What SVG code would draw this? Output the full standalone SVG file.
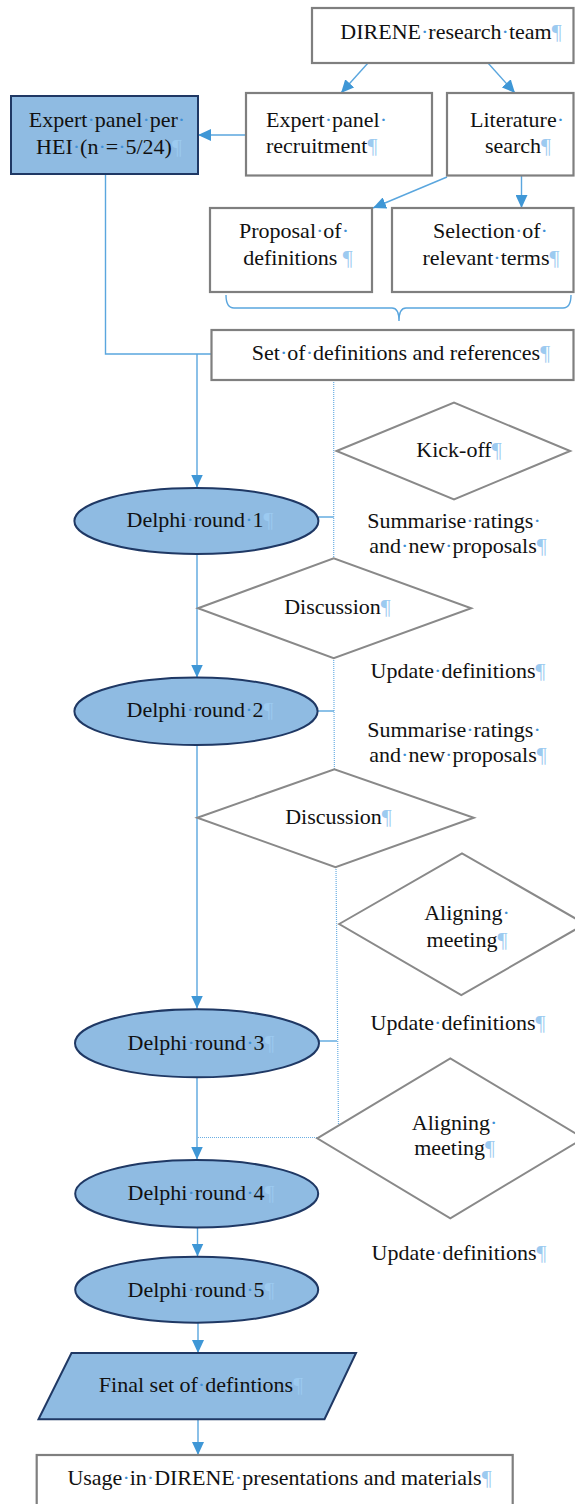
<svg xmlns="http://www.w3.org/2000/svg" width="575" height="1504" viewBox="0 0 575 1504">
<style>
  .box{fill:#fff;stroke:#7f7f7f;stroke-width:2.2}
  .dia{fill:#fff;stroke:#898989;stroke-width:2}
  .hl{fill:#8fbbe2;stroke:#1f3864;stroke-width:2}
  text{font-family:"Liberation Serif","Times New Roman",serif;font-size:22px;fill:#111}
  .m{text-anchor:middle}
  .p{fill:#9ccaf0}
  .d{fill:#3d8fd6}
  .c{fill:none;stroke:#5aa6de;stroke-width:1.4}
  .a{marker-end:url(#ah)}
  .dot{fill:none;stroke:#6aaee3;stroke-width:1.2;stroke-dasharray:1 1}
</style>
<defs>
  <marker id="ah" markerUnits="userSpaceOnUse" markerWidth="14" markerHeight="12" refX="13" refY="6" orient="auto">
    <path d="M0,0 L13,6 L0,12 z" fill="#3f97d6"/>
  </marker>
</defs>
<rect width="575" height="1504" fill="#fff"/>

<!-- connectors -->
<g id="connectors">
  <line class="c a" x1="368" y1="63" x2="341" y2="93"/>
  <line class="c a" x1="488" y1="63" x2="515" y2="93"/>
  <line class="c a" x1="246" y1="135" x2="198" y2="135"/>
  <line class="c a" x1="447" y1="177" x2="373" y2="208"/>
  <line class="c a" x1="521.5" y1="176" x2="521.5" y2="208"/>
  <path class="c" d="M226,295 Q226,308 234,308 H392 Q399,308 399,321 Q399,308 406,308 H563 Q571,308 571,295"/>
  <polyline class="c" points="105.5,174 105.5,354 211,354"/>
  <line class="c a" x1="197" y1="354" x2="197" y2="487.5"/>
  <line class="dot" x1="333.7" y1="380" x2="333.7" y2="558"/>
  <line class="c" x1="318" y1="517" x2="333.7" y2="517"/>
  <line class="c a" x1="197" y1="554" x2="197" y2="677.5"/>
  <line class="dot" x1="333.7" y1="658" x2="334.4" y2="769"/>
  <line class="c" x1="317.5" y1="711" x2="334" y2="711"/>
  <line class="c a" x1="197" y1="745" x2="197" y2="1008.5"/>
  <line class="dot" x1="336" y1="867" x2="338.5" y2="1125"/>
  <line class="c" x1="318.5" y1="1041" x2="337" y2="1041"/>
  <line class="c a" x1="197" y1="1077" x2="197" y2="1159.5"/>
  <line class="dot" x1="198" y1="1137.5" x2="317" y2="1137.5"/>
  <line class="c a" x1="197.5" y1="1227" x2="197.5" y2="1256.5"/>
  <line class="c a" x1="198" y1="1323" x2="198" y2="1353"/>
  <line class="c a" x1="198" y1="1419" x2="198" y2="1455"/>
</g>

<!-- side notes between the rounds -->
<g id="notes">
  <text class="m" x="454" y="528.3">Summarise<tspan class="d">·</tspan>ratings<tspan class="d">·</tspan></text>
  <text class="m" x="458" y="553.3">and<tspan class="d">·</tspan>new<tspan class="d">·</tspan>proposals<tspan class="p">¶</tspan></text>
  <text class="m" x="458" y="678.3">Update<tspan class="d">·</tspan>definitions<tspan class="p">¶</tspan></text>
  <text class="m" x="454" y="737">Summarise<tspan class="d">·</tspan>ratings<tspan class="d">·</tspan></text>
  <text class="m" x="458" y="762">and<tspan class="d">·</tspan>new<tspan class="d">·</tspan>proposals<tspan class="p">¶</tspan></text>
  <text class="m" x="458" y="1030">Update<tspan class="d">·</tspan>definitions<tspan class="p">¶</tspan></text>
  <text class="m" x="459" y="1260">Update<tspan class="d">·</tspan>definitions<tspan class="p">¶</tspan></text>
</g>

<g id="research-team">
  <rect class="box" x="312" y="8" width="261.5" height="55"/>
  <text class="m" x="451" y="39.3">DIRENE<tspan class="d">·</tspan>research<tspan class="d">·</tspan>team<tspan class="p">¶</tspan></text>
</g>
<g id="expert-panel">
  <rect class="hl" x="11" y="96" width="187" height="78"/>
  <text class="m" x="107" y="127">Expert<tspan class="d">·</tspan>panel<tspan class="d">·</tspan>per<tspan class="d">·</tspan></text>
  <text class="m" x="109" y="153.5">HEI<tspan class="d">·</tspan>(n<tspan class="d">·</tspan>=<tspan class="d">·</tspan>5/24)<tspan class="p">¶</tspan></text>
</g>
<g id="recruitment">
  <rect class="box" x="246" y="93" width="186" height="82.5"/>
  <text x="266" y="127">Expert<tspan class="d">·</tspan>panel<tspan class="d">·</tspan></text>
  <text x="266" y="153">recruitment<tspan class="p">¶</tspan></text>
</g>
<g id="literature">
  <rect class="box" x="447" y="93" width="126.5" height="82.5"/>
  <text class="m" x="517" y="127">Literature<tspan class="d">·</tspan></text>
  <text class="m" x="518" y="153">search<tspan class="p">¶</tspan></text>
</g>
<g id="proposal">
  <rect class="box" x="210" y="208" width="162" height="84"/>
  <text class="m" x="294" y="238">Proposal<tspan class="d">·</tspan>of<tspan class="d">·</tspan></text>
  <text class="m" x="298" y="265">definitions <tspan class="p">¶</tspan></text>
</g>
<g id="selection">
  <rect class="box" x="392" y="208" width="181.5" height="84"/>
  <text class="m" x="490.5" y="238">Selection<tspan class="d">·</tspan>of<tspan class="d">·</tspan></text>
  <text class="m" x="491" y="265">relevant<tspan class="d">·</tspan>terms<tspan class="p">¶</tspan></text>
</g>
<g id="definition-set">
  <rect class="box" x="211.5" y="330" width="362" height="50"/>
  <text class="m" x="401" y="360">Set<tspan class="d">·</tspan>of<tspan class="d">·</tspan>definitions and references<tspan class="p">¶</tspan></text>
</g>
<g id="kick-off">
  <polygon class="dia" points="336.6,451 454,402.7 570.2,451 454,499.3"/>
  <text class="m" x="459" y="457.3">Kick-off<tspan class="p">¶</tspan></text>
</g>
<g id="delphi-1">
  <ellipse class="hl" cx="196.4" cy="521" rx="122" ry="33"/>
  <text class="m" x="200" y="527">Delphi<tspan class="d">·</tspan>round<tspan class="d">·</tspan>1<tspan class="p">¶</tspan></text>
</g>
<g id="discussion-1">
  <polygon class="dia" points="198,608.3 333.7,558.3 471.2,608.3 333.7,658.3"/>
  <text class="m" x="337.5" y="614.3">Discussion<tspan class="p">¶</tspan></text>
</g>
<g id="delphi-2">
  <ellipse class="hl" cx="196" cy="711.3" rx="121.6" ry="33.7"/>
  <text class="m" x="200" y="717">Delphi<tspan class="d">·</tspan>round<tspan class="d">·</tspan>2<tspan class="p">¶</tspan></text>
</g>
<g id="discussion-2">
  <polygon class="dia" points="197.3,817.7 334.4,769.3 473.8,817.7 335.5,867.3"/>
  <text class="m" x="338.5" y="824.3">Discussion<tspan class="p">¶</tspan></text>
</g>
<g id="aligning-1">
  <polygon class="dia" points="339.2,924 462,853.3 585,924 461.3,995"/>
  <text class="m" x="467" y="920">Aligning<tspan class="d">·</tspan></text>
  <text class="m" x="467" y="946.7">meeting<tspan class="p">¶</tspan></text>
</g>
<g id="delphi-3">
  <ellipse class="hl" cx="197" cy="1043.3" rx="122" ry="34"/>
  <text class="m" x="201" y="1050">Delphi<tspan class="d">·</tspan>round<tspan class="d">·</tspan>3<tspan class="p">¶</tspan></text>
</g>
<g id="aligning-2">
  <polygon class="dia" points="317.2,1138.3 450.3,1058.3 583.5,1138.3 450.3,1218.3"/>
  <text class="m" x="454.6" y="1130">Aligning<tspan class="d">·</tspan></text>
  <text class="m" x="454.6" y="1155">meeting<tspan class="p">¶</tspan></text>
</g>
<g id="delphi-4">
  <ellipse class="hl" cx="196.7" cy="1193.7" rx="121.5" ry="33.7"/>
  <text class="m" x="201" y="1200">Delphi<tspan class="d">·</tspan>round<tspan class="d">·</tspan>4<tspan class="p">¶</tspan></text>
</g>
<g id="delphi-5">
  <ellipse class="hl" cx="196.7" cy="1289.7" rx="121.5" ry="33"/>
  <text class="m" x="201" y="1296.7">Delphi<tspan class="d">·</tspan>round<tspan class="d">·</tspan>5<tspan class="p">¶</tspan></text>
</g>
<g id="final-set">
  <polygon class="hl" points="71.5,1353 356,1353 324.5,1419.3 38.5,1419.3"/>
  <text class="m" x="201" y="1391.7">Final set of<tspan class="d">·</tspan>defintions<tspan class="p">¶</tspan></text>
</g>
<g id="usage">
  <rect class="box" x="36.7" y="1455" width="476" height="60"/>
  <text class="m" x="279.5" y="1485">Usage<tspan class="d">·</tspan>in<tspan class="d">·</tspan>DIRENE<tspan class="d">·</tspan>presentations and materials<tspan class="p">¶</tspan></text>
</g>
</svg>
